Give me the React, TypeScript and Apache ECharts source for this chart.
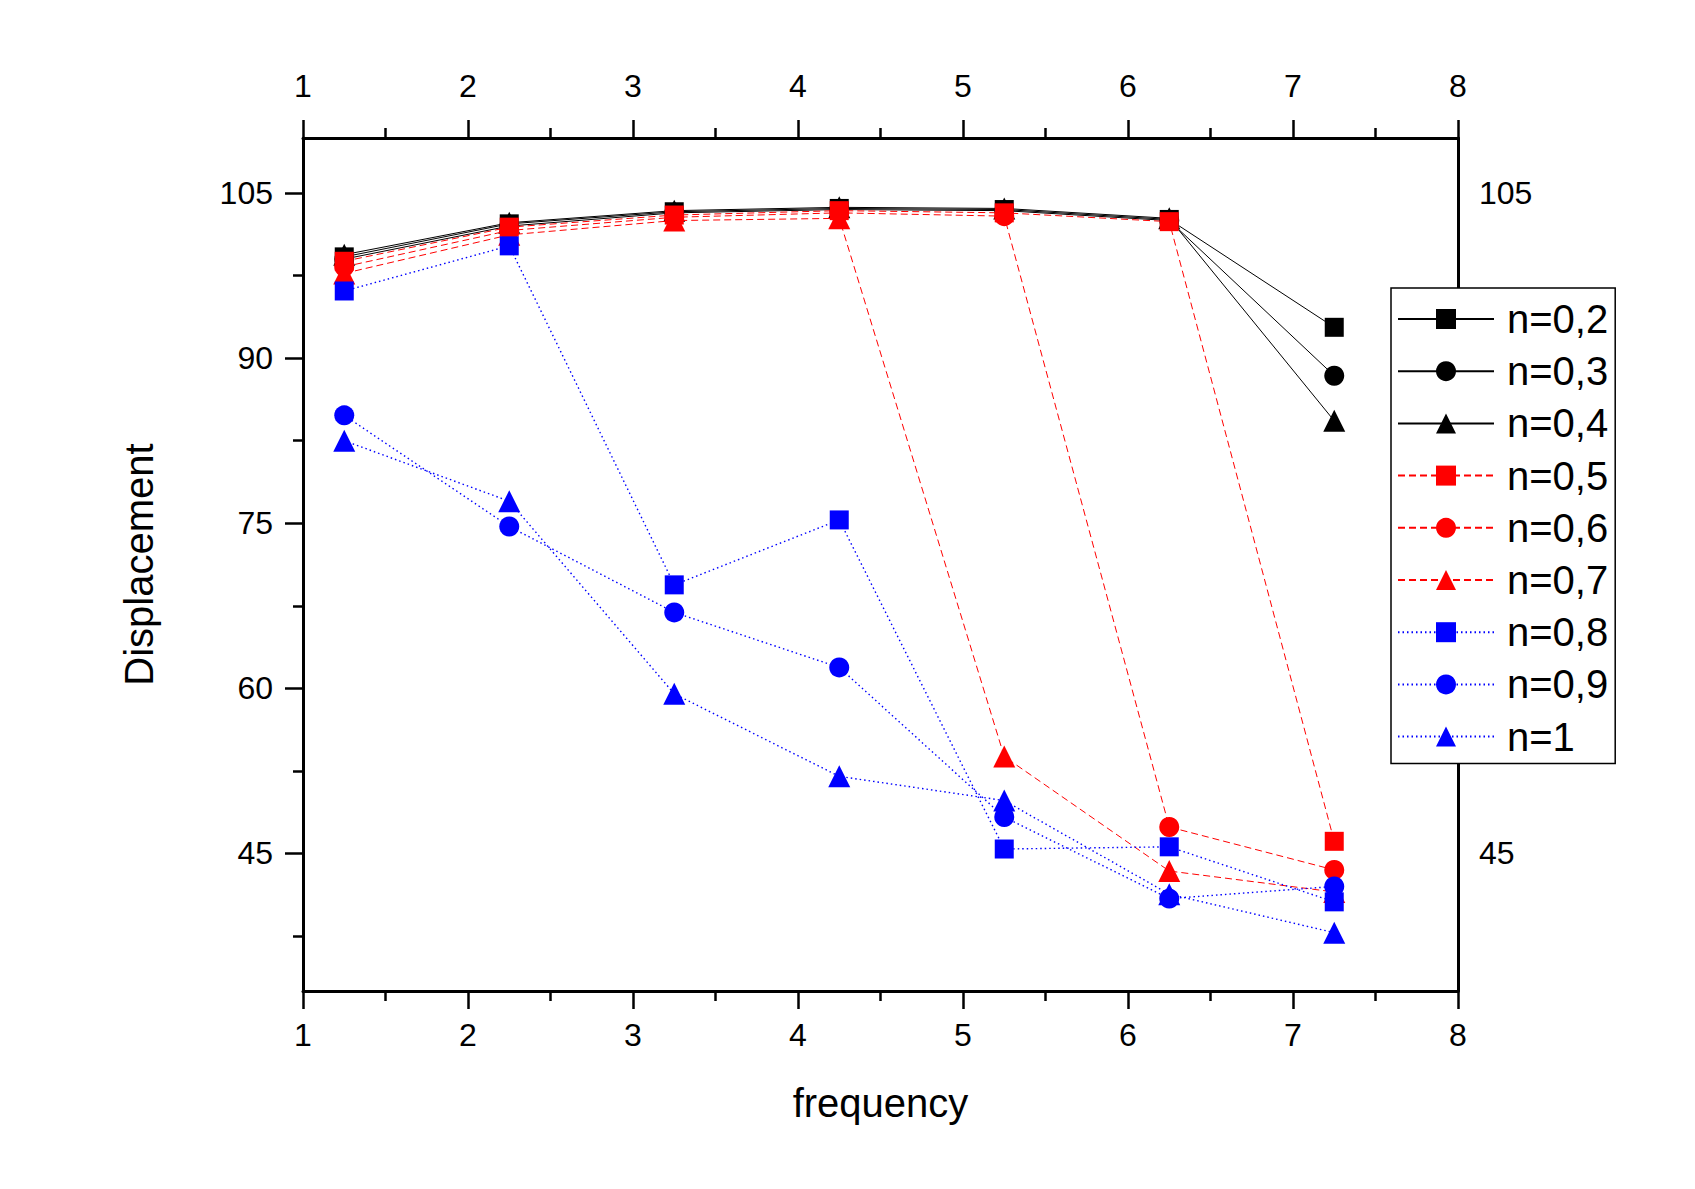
import React, { useEffect, useRef } from "react";
import * as echarts from "echarts";

// ---- data ----
const frequency = [1.25, 2.25, 3.25, 4.25, 5.25, 6.25, 7.25];
const seriesNames = ["n=0,2", "n=0,3", "n=0,4", "n=0,5", "n=0,6", "n=0,7", "n=0,8", "n=0,9", "n=1"];
const n02 = [99.2, 102.2, 103.3, 103.6, 103.5, 102.6, 92.8];
const n03 = [99.0, 102.0, 103.2, 103.5, 103.4, 102.5, 88.4];
const n04 = [99.4, 102.3, 103.4, 103.7, 103.6, 102.7, 84.3];
const n05 = [98.8, 101.9, 103.0, 103.4, 103.2, 102.4, 46.1];
const n06 = [98.3, 101.6, 102.8, 103.2, 102.9, 47.4, 43.5];
const n07 = [97.7, 101.2, 102.5, 102.7, 53.8, 43.4, 41.5];
const n08 = [96.1, 100.2, 69.4, 75.3, 45.4, 45.6, 40.6];
const n09 = [84.8, 74.7, 66.9, 61.9, 48.3, 40.9, 42.0];
const n10 = [82.5, 77.0, 59.5, 52.0, 49.8, 41.3, 37.8];
const seriesValues = [n02, n03, n04, n05, n06, n07, n08, n09, n10];

const xMin = 1;
const xMax = 8;
const yMin = 32.5;
const yMax = 110;
const yLabelValues = [45, 60, 75, 90, 105];
const yMinorTickValues = [37.5, 52.5, 67.5, 82.5, 97.5];
const yRightLabelValues = [45, 105];

// ---- styles ----
const FONT = "'Liberation Sans', Arial, sans-serif";
const BLACK = "#000000";
const RED = "#ff0000";
const BLUE = "#0000ff";
const colors = [BLACK, BLACK, BLACK, RED, RED, RED, BLUE, BLUE, BLUE];
const symbols = ["rect", "circle", "triangle", "rect", "circle", "triangle", "rect", "circle", "triangle"];
const symbolSizes: Record<string, number> = { rect: 19, circle: 20, triangle: 22 };

function lineStyleFor(color: string) {
  if (color === BLACK) return { color, width: 1, type: "solid" as const };
  if (color === RED) return { color, width: 1, type: [7, 4] };
  return { color, width: 1.4, type: [1.5, 3] };
}

export default function App() {
  const ref = useRef<HTMLDivElement>(null);

  useEffect(() => {
    if (!ref.current) return;
    const chart = echarts.init(ref.current, null, { renderer: "svg" });

    const axisLine = { show: true, lineStyle: { color: BLACK, width: 3 } };
    const labelStyle = { color: BLACK, fontSize: 32, fontFamily: FONT };

    const xCommon = {
      type: "value" as const,
      min: xMin,
      max: xMax,
      interval: 1,
      axisLine,
      splitLine: { show: false },
      axisTick: { show: true, inside: false, length: 18, lineStyle: { color: BLACK, width: 2.5 } },
      minorTick: { show: true, splitNumber: 2, length: 10, lineStyle: { color: BLACK, width: 2.5 } },
      minorSplitLine: { show: false },
    };

    const series = seriesNames.map((name, i) => ({
      name,
      type: "line" as const,
      xAxisIndex: 0,
      yAxisIndex: 0,
      data: frequency.map((f, j) => [f, seriesValues[i][j]]),
      symbol: symbols[i],
      symbolSize: symbolSizes[symbols[i]],
      itemStyle: { color: colors[i] },
      lineStyle: lineStyleFor(colors[i]),
      emphasis: { disabled: true },
      z: 2 + i,
    }));

    chart.setOption({
      animation: false,
      backgroundColor: "#ffffff",
      textStyle: { fontFamily: FONT },
      grid: { left: 303, top: 138, right: 237, bottom: 198, containLabel: false },
      legend: {
        show: true,
        orient: "vertical",
        left: 1391,
        top: 288,
        data: seriesNames,
        itemWidth: 96,
        itemHeight: 25,
        itemGap: 12.2,
        padding: [11, 7, 7, 6],
        borderColor: BLACK,
        borderWidth: 1.5,
        backgroundColor: "#ffffff",
        selectedMode: false,
        textStyle: {
          color: BLACK,
          fontSize: 40,
          fontFamily: FONT,
          padding: [0, 0, 0, 8],
        },
      },
      xAxis: [
        {
          ...xCommon,
          position: "bottom",
          name: "frequency",
          nameLocation: "middle",
          nameGap: 92,
          nameTextStyle: { color: BLACK, fontSize: 40, fontFamily: FONT },
          axisLabel: { ...labelStyle, margin: 28 },
        },
        {
          ...xCommon,
          position: "top",
          axisLabel: { ...labelStyle, margin: 36 },
        },
      ],
      yAxis: [
        {
          type: "value",
          position: "left",
          min: yMin,
          max: yMax,
          axisLine,
          splitLine: { show: false },
          name: "Displacement",
          nameLocation: "middle",
          nameGap: 144,
          nameTextStyle: { color: BLACK, fontSize: 40, fontFamily: FONT },
          axisTick: {
            show: true,
            inside: false,
            length: 18,
            customValues: yLabelValues,
            lineStyle: { color: BLACK, width: 2.5 },
          },
          axisLabel: { ...labelStyle, margin: 30, customValues: yLabelValues },
        },
        {
          type: "value",
          position: "left",
          min: yMin,
          max: yMax,
          axisLine: { show: false },
          splitLine: { show: false },
          axisTick: {
            show: true,
            inside: false,
            length: 10,
            customValues: yMinorTickValues,
            lineStyle: { color: BLACK, width: 2.5 },
          },
          axisLabel: { show: false },
        },
        {
          type: "value",
          position: "right",
          min: yMin,
          max: yMax,
          axisLine,
          splitLine: { show: false },
          axisTick: { show: false },
          axisLabel: { ...labelStyle, margin: 21, customValues: yRightLabelValues, verticalAlign: "middle" },
        },
      ],
      series,
    });

    return () => chart.dispose();
  }, []);

  return (
    <div
      ref={ref}
      style={{ position: "fixed", left: 0, top: 0, width: 1695, height: 1189, background: "#ffffff" }}
    />
  );
}
